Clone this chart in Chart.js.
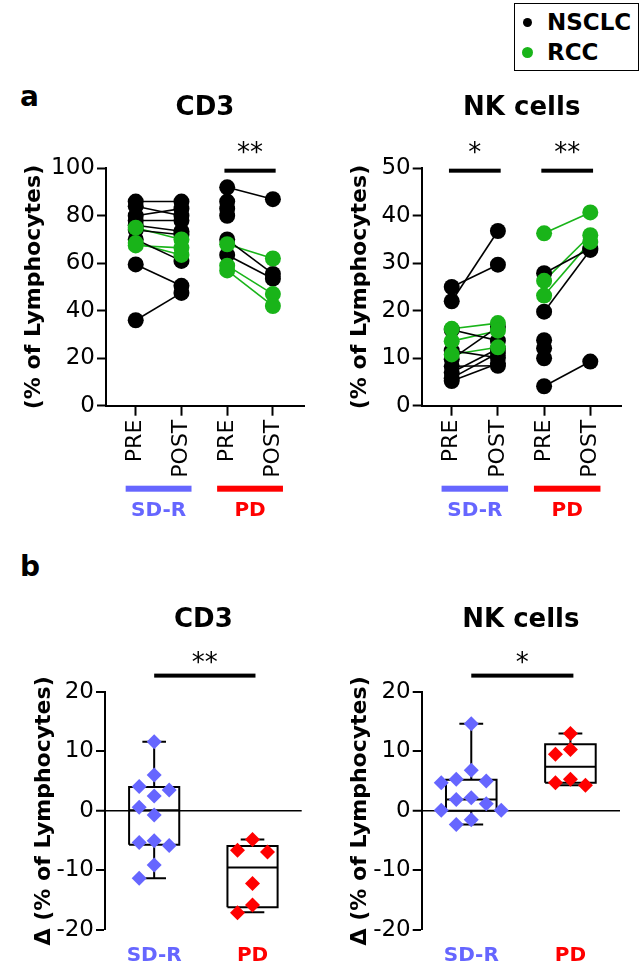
<!DOCTYPE html>
<html><head><meta charset="utf-8">
<script src="https://cdn.jsdelivr.net/npm/chart.js@4.4.1/dist/chart.umd.min.js"></script>
<style>
html,body{margin:0;padding:0;background:#fff;}
body{width:642px;height:963px;position:relative;overflow:hidden;font-family:"DejaVu Sans",sans-serif;color:#000;}
canvas{position:absolute;}
.plab{position:absolute;font-weight:bold;font-size:28px;line-height:28px;}
#legend{position:absolute;left:514px;top:3px;width:125px;height:68px;border:1.5px solid #000;box-sizing:border-box;}
#legend .it{position:absolute;left:0;height:30px;line-height:30px;font-weight:bold;font-size:23px;}
#legend .dot{position:absolute;border-radius:50%;}
</style></head>
<body>
<div class="plab" style="left:20px;top:83px">a</div>
<div class="plab" style="left:20px;top:553px">b</div>
<div id="legend"></div>
<canvas id="a1" width="321" height="475" style="left:0;top:75px"></canvas>
<canvas id="a2" width="321" height="475" style="left:321px;top:75px"></canvas>
<canvas id="b1" width="321" height="373" style="left:0;top:590px"></canvas>
<canvas id="b2" width="321" height="373" style="left:321px;top:590px"></canvas>
<script>
// ---------- data ----------
const seriesTypes = ['NSCLC', 'RCC'];
const xTickLabels = ['PRE', 'POST', 'PRE', 'POST'];
const groupLabels = ['SD-R', 'PD'];
const N = 'NSCLC', R = 'RCC';

// Panel a — CD3 (% of lymphocytes), one PRE/POST pair per patient
const cd3SdrPre  = [86, 84, 80, 78, 76, 74, 70, 59.5, 36, 75, 68.5, 67.5];
const cd3SdrPost = [86, 80, 83, 78, 73.5, 72, 61, 50.5, 47.5, 70, 63.5, 66.5];
const cd3SdrType = [N, N, N, N, N, N, N, N, N, R, R, R];
const cd3PdPre   = [92, 70, 63.5, 86, 83, 80, 68, 59, 57];
const cd3PdPost  = [87, 55.5, 53.5, null, null, null, 62, 47, 42];
const cd3PdType  = [N, N, N, N, N, N, R, R, R];

// Panel a — NK cells (% of lymphocytes)
const nkSdrPre   = [25, 22, 16, 11.6, 9.8, 7, 5.8, 8.3, 5.2, 16.2, 13.6, 10.8];
const nkSdrPost  = [29.7, 36.8, 13.7, 10.1, 16.6, 12, 11.1, 8.4, 8.9, 17.4, 15.8, 12.3];
const nkSdrType  = [N, N, N, N, N, N, N, N, N, R, R, R];
const nkPdPre    = [27.9, 19.8, 4.1, 13.8, 12.1, 10, 36.3, 26.3, 23.2];
const nkPdPost   = [33.1, 32.8, 9.3, null, null, null, 40.7, 35.9, 34.5];
const nkPdType   = [N, N, N, N, N, N, R, R, R];

// Panel b — change (POST − PRE)
const cd3DeltaSdr = [11.6, 6.0, 4.1, 3.5, 2.5, 0.6, -0.7, -5.0, -5.3, -5.8, -9.1, -11.3];
const cd3DeltaPd  = [-4.8, -6.6, -6.9, -12.2, -15.8, -17.1];
const nkDeltaSdr  = [14.6, 6.8, 5.3, 5.0, 4.7, 2.2, 1.9, 1.2, 0.1, 0.1, -1.5, -2.3];
const nkDeltaPd   = [13.0, 10.3, 9.5, 5.3, 4.7, 4.3];

// box statistics [min, q1, median, q3, max]
const cd3BoxSdr = [-11.3, -5.7, 0.1, 4.0, 11.6];
const cd3BoxPd  = [-17.0, -16.2, -9.5, -5.9, -4.8];
const nkBoxSdr  = [-2.3, 0.0, 1.9, 5.2, 14.6];
const nkBoxPd   = [4.3, 4.7, 7.4, 11.2, 13.0];

// significance marks
const cd3PairSig  = [{from: 2, to: 3, y: 99, label: '**'}];
const nkPairSig   = [{from: 0, to: 1, y: 49.5, label: '*'}, {from: 2, to: 3, y: 49.5, label: '**'}];
const cd3DeltaSig = [{from: 0, to: 1, y: 22.7, label: '**'}];
const nkDeltaSig  = [{from: 0, to: 1, y: 22.7, label: '*'}];

// ---------- styles ----------
const BLACK = '#000000', GREEN = '#19b419', BLUE = '#6666ff', RED = '#ff0000';
const typeColor = {NSCLC: BLACK, RCC: GREEN};
const groupColor = [BLUE, RED];
const FF = '"DejaVu Sans", sans-serif';
Chart.defaults.font.family = FF;
Chart.defaults.color = '#000';
Chart.defaults.animation = false;

// legend
(function () {
  const lg = document.getElementById('legend');
  seriesTypes.forEach((t, i) => {
    const it = document.createElement('div');
    it.className = 'it';
    it.style.top = (3 + i * 30) + 'px';
    it.style.left = '32px';
    it.textContent = t;
    lg.appendChild(it);
    const d = document.createElement('div');
    d.className = 'dot';
    const s = i === 0 ? 9 : 11;
    d.style.width = s + 'px'; d.style.height = s + 'px';
    d.style.left = (12 - s / 2) + 'px';
    d.style.top = (18 + i * 30 - s / 2) + 'px';
    d.style.background = typeColor[t];
    lg.appendChild(d);
  });
})();

const decor = {
  id: 'decor',
  afterDraw(chart, args, o) {
    const ctx = chart.ctx, ca = chart.chartArea, xs = chart.scales.x, ys = chart.scales.y;
    ctx.save();
    if (o.title) {
      ctx.fillStyle = '#000';
      ctx.font = 'bold 26px ' + FF;
      ctx.textAlign = 'center'; ctx.textBaseline = 'middle';
      ctx.fillText(o.title, (ca.left + ca.right) / 2, ca.top + o.titleDy);
    }
    (o.sig || []).forEach(s => {
      const x1 = xs.getPixelForValue(s.from - o.sigPadL), x2 = xs.getPixelForValue(s.to + o.sigPadR);
      const y = ys.getPixelForValue(s.y);
      ctx.fillStyle = '#000';
      ctx.fillRect(x1, y - 2, x2 - x1, 4);
      ctx.font = '26px ' + FF; ctx.textAlign = 'center'; ctx.textBaseline = 'alphabetic';
      ctx.fillText(s.label, (x1 + x2) / 2, y - o.starGap);
    });
    (o.groups || []).forEach((g, i) => {
      const x1 = xs.getPixelForValue(i * 2 - 0.22), x2 = xs.getPixelForValue(i * 2 + 1 + 0.22);
      ctx.fillStyle = groupColor[i];
      ctx.fillRect(x1, ca.bottom + o.barDy - 3, x2 - x1, 6);
      ctx.font = 'bold 20px ' + FF; ctx.textAlign = 'center'; ctx.textBaseline = 'middle';
      ctx.fillText(g, (x1 + x2) / 2, ca.bottom + o.labelDy);
    });
    ctx.restore();
  }
};

function pairChart(id, o) {
  const datasets = [];
  const pts = {NSCLC: [], RCC: []};
  o.groups.forEach((g, gi) => {
    g.pre.forEach((pre, i) => {
      const post = g.post[i];
      const p = [{x: gi * 2, y: pre}];
      if (post != null) p.push({x: gi * 2 + 1, y: post});
      datasets.push({type: 'line', data: p, borderColor: typeColor[g.type[i]], borderWidth: 1.6,
        pointRadius: 0, order: 2, clip: false, fill: false});
      pts[g.type[i]].push(...p);
    });
  });
  datasets.push({type: 'scatter', data: pts.NSCLC, backgroundColor: BLACK, borderWidth: 0, pointRadius: 8, order: 1, clip: false});
  datasets.push({type: 'scatter', data: pts.RCC, backgroundColor: GREEN, borderWidth: 0, pointRadius: 8, order: 0, clip: false});
  return new Chart(document.getElementById(id), {
    type: 'scatter',
    data: {datasets},
    plugins: [decor],
    options: {
      responsive: false, devicePixelRatio: 1,
      layout: {padding: {left: 0, top: o.padTop, right: o.padRight, bottom: 0}},
      plugins: {legend: {display: false}, tooltip: {enabled: false},
        decor: {title: o.title, titleDy: -60, sig: o.sig, sigPadL: 0.06, sigPadR: 0.06, starGap: 10,
          groups: groupLabels, barDy: 83, labelDy: 105}},
      scales: {
        x: {type: 'linear', min: -0.65, max: 3.68,
          afterBuildTicks: s => { s.ticks = xTickLabels.map((_, i) => ({value: i})); },
          afterFit: s => { s.height = o.xAxisH; },
          ticks: {autoSkip: false, minRotation: 90, maxRotation: 90, padding: 4, font: {size: 22}, color: '#000',
            callback: v => xTickLabels[v]},
          grid: {drawOnChartArea: false, drawTicks: true, tickLength: 10, tickWidth: 2, tickColor: '#000'},
          border: {display: true, color: '#000', width: 2}},
        y: {min: 0, max: o.yMax,
          afterFit: s => { s.width = o.yAxisW; },
          ticks: {stepSize: o.yStep, font: {size: 23}, padding: 2, color: '#000'},
          grid: {drawOnChartArea: false, drawTicks: true, tickLength: 9, tickWidth: 2, tickColor: '#000'},
          border: {display: true, color: '#000', width: 2},
          title: {display: true, text: '(% of Lymphocytes)', color: '#000',
            font: {size: 22, weight: 'bold'}, padding: {top: o.titlePad, bottom: 0}}}
      }
    }
  });
}

function boxSegments(stats, gx) {
  const [mn, q1, md, q3, mx] = stats;
  const w = 0.255, c = 0.12, gap = {x: gx, y: null};
  return [
    {x: gx - w, y: q1}, {x: gx + w, y: q1}, {x: gx + w, y: q3}, {x: gx - w, y: q3}, {x: gx - w, y: q1}, gap,
    {x: gx - w, y: md}, {x: gx + w, y: md}, gap,
    {x: gx, y: q3}, {x: gx, y: mx}, gap, {x: gx - c, y: mx}, {x: gx + c, y: mx}, gap,
    {x: gx, y: q1}, {x: gx, y: mn}, gap, {x: gx - c, y: mn}, {x: gx + c, y: mn}, gap
  ];
}

function deltaChart(id, o) {
  const datasets = [
    {type: 'line', data: [...boxSegments(o.boxes[0], 0), ...boxSegments(o.boxes[1], 1)],
      borderColor: '#000', borderWidth: 2, pointRadius: 0, spanGaps: false, order: 2, clip: false, fill: false},
    {type: 'scatter', data: o.values[0].map(v => ({x: 0, y: v})), pointStyle: 'rectRot',
      backgroundColor: BLUE, borderWidth: 0, pointRadius: 7.5, order: 0, clip: false},
    {type: 'scatter', data: o.values[1].map(v => ({x: 1, y: v})), pointStyle: 'rectRot',
      backgroundColor: RED, borderWidth: 0, pointRadius: 7.5, order: 0, clip: false}
  ];
  const ch = new Chart(document.getElementById(id), {
    type: 'scatter',
    data: {datasets},
    plugins: [decor],
    options: {
      responsive: false, devicePixelRatio: 1,
      layout: {padding: {left: 0, top: o.padTop, right: o.padRight, bottom: 0}},
      plugins: {legend: {display: false}, tooltip: {enabled: false},
        decor: {title: o.title, titleDy: -71, sig: o.sig, sigPadL: 0, sigPadR: 0.03, starGap: 5}},
      scales: {
        x: {type: 'linear', min: -0.5, max: 1.5,
          afterBuildTicks: s => { s.ticks = groupLabels.map((_, i) => ({value: i})); },
          afterFit: s => { s.height = o.xAxisH; },
          ticks: {autoSkip: false, maxRotation: 0, padding: 6, font: {size: 20, weight: 'bold'},
            color: c => groupColor[c.index], callback: v => groupLabels[v]},
          grid: {display: false},
          border: {display: false}},
        y: {min: -20, max: 20,
          afterFit: s => { s.width = o.yAxisW; },
          ticks: {stepSize: 10, font: {size: 23}, padding: 2, color: '#000'},
          grid: {drawOnChartArea: true, drawTicks: true, tickLength: 9, tickWidth: 2, tickColor: '#000',
            color: c => (c.tick && c.tick.value === 0) ? '#000' : 'rgba(0,0,0,0)',
            lineWidth: c => (c.tick && c.tick.value === 0) ? 1.5 : 0},
          border: {display: true, color: '#000', width: 2},
          title: {display: true, text: 'Δ (% of Lymphocytes)', color: '#000',
            font: {size: 22, weight: 'bold'}, padding: {top: o.titlePad, bottom: 0}}}
      }
    }
  });
  // beeswarm spreading of overlapping diamonds (positions from the chart's own scales)
  const xs = ch.scales.x, ys = ch.scales.y;
  const ppx = xs.getPixelForValue(1) - xs.getPixelForValue(0);
  o.values.forEach((vals, gi) => {
    const order = vals.map((_, i) => i).sort((a, b) => vals[b] - vals[a]);
    const placed = [], off = new Array(vals.length).fill(0);
    order.forEach(i => {
      const py = ys.getPixelForValue(vals[i]);
      for (const k of [0, -1, 1, -2, 2, -3, 3]) {
        const c = k * 15;
        if (placed.every(p => Math.abs(p.x - c) + Math.abs(p.y - py) >= 15)) { off[i] = c; placed.push({x: c, y: py}); break; }
      }
    });
    ch.data.datasets[gi + 1].data = vals.map((v, i) => ({x: gi + off[i] / ppx, y: v}));
  });
  ch.update();
  return ch;
}

pairChart('a1', {title: 'CD3', yMax: 100, yStep: 20, padTop: 93.3, padRight: 17, yAxisW: 106, xAxisH: 144.3, titlePad: 21,
  sig: cd3PairSig,
  groups: [{pre: cd3SdrPre, post: cd3SdrPost, type: cd3SdrType}, {pre: cd3PdPre, post: cd3PdPost, type: cd3PdType}]});
pairChart('a2', {title: 'NK cells', yMax: 50, yStep: 10, padTop: 93.3, padRight: 20.3, yAxisW: 100.7, xAxisH: 144.3, titlePad: 26,
  sig: nkPairSig,
  groups: [{pre: nkSdrPre, post: nkSdrPost, type: nkSdrType}, {pre: nkPdPre, post: nkPdPost, type: nkPdType}]});
deltaChart('b1', {title: 'CD3', padTop: 101.7, padRight: 19.3, yAxisW: 105, xAxisH: 33, titlePad: 31,
  sig: cd3DeltaSig, values: [cd3DeltaSdr, cd3DeltaPd], boxes: [cd3BoxSdr, cd3BoxPd]});
deltaChart('b2', {title: 'NK cells', padTop: 101.7, padRight: 22, yAxisW: 100.7, xAxisH: 33, titlePad: 26,
  sig: nkDeltaSig, values: [nkDeltaSdr, nkDeltaPd], boxes: [nkBoxSdr, nkBoxPd]});
</script>
</body></html>
